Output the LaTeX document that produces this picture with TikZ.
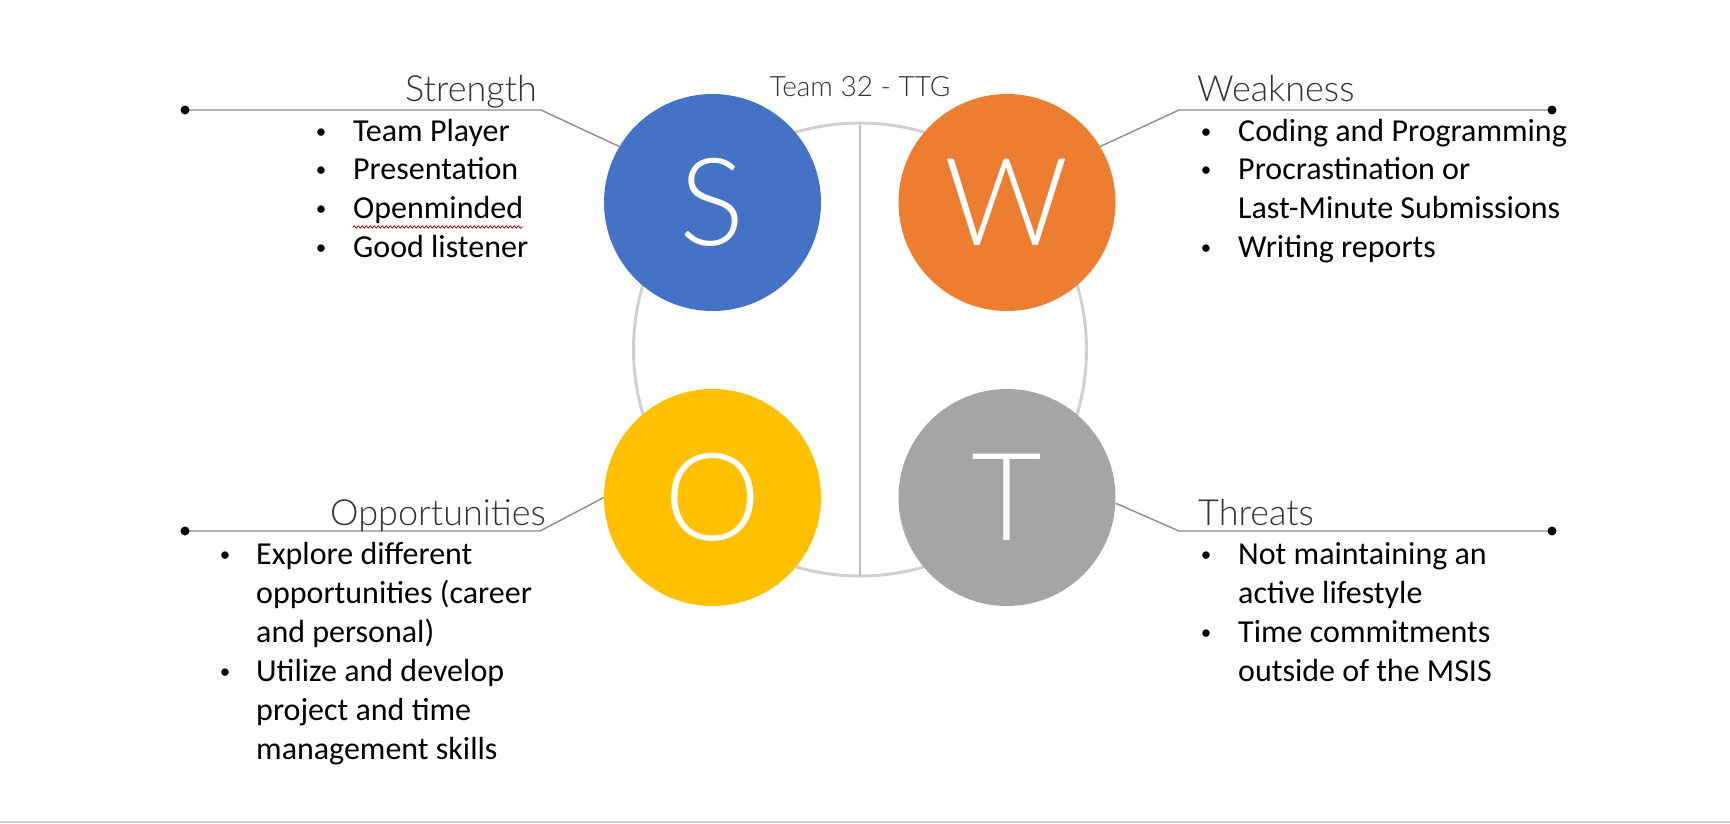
\documentclass[tikz,border=0pt]{standalone}
\usepackage{fontspec}
\setmainfont{Carlito}
\newfontfamily\lightfont{Lato Light}
\usetikzlibrary{decorations.pathmorphing}

\definecolor{sblue}{HTML}{4472C4}
\definecolor{worange}{HTML}{ED7D31}
\definecolor{oyellow}{HTML}{FFC000}
\definecolor{tgray}{HTML}{A5A5A5}
\definecolor{ringgray}{HTML}{D0D0D0}
\definecolor{splitgray}{HTML}{BFBFBF}
\definecolor{conngray}{HTML}{8C8C8C}
\definecolor{headgray}{HTML}{333333}

\tikzset{
  quad/.style={circle, minimum size=217pt, inner sep=0pt, text=white,
    font=\lightfont\fontsize{122}{122}\selectfont},
  conn/.style={draw=conngray, line width=1.4pt},
  enddot/.style={fill=black},
  heading/.style={inner sep=0pt, text=headgray,
    font=\lightfont\fontsize{36}{42}\selectfont},
  item/.style={anchor=base west, inner sep=0pt,
    font=\fontsize{32}{39}\selectfont},
  bul/.style={anchor=base, inner sep=0pt, yshift=3pt,
    font=\fontsize{21}{24}\selectfont},
}

\begin{document}
\begin{tikzpicture}[x=1pt,y=-1pt]
\useasboundingbox (0,0) rectangle (1730,823);
\fill[white] (0,0) rectangle (1730,823);
\fill[ringgray] (0,820.5) rectangle (1730,823);

% central ring with its vertical divider
\node[circle, draw=ringgray, line width=3pt, minimum size=453pt, inner sep=0pt] (ring) at (860,349.5) {};
\draw[splitgray, line width=2pt, shorten <=3pt, shorten >=2pt] (ring.north) -- (ring.south);
\node[anchor=base, inner sep=0pt, text=headgray, font=\lightfont\fontsize{28}{32}\selectfont] (title) at (860,96) {Team 32 - TTG};

% the four quadrant discs
\node[quad, fill=sblue]   (S) at (712.5,202.5) {S};
\node[quad, fill=worange] (W) at (1007,202.5) {W};
\node[quad, fill=oyellow] (O) at (712.5,497.5) {O};
\node[quad, fill=tgray]   (T) at (1007,497.5) {T};

% leader lines
\coordinate (dS) at (185,110);  \coordinate (eS) at (541,110);
\coordinate (dW) at (1552,110); \coordinate (eW) at (1179,110);
\coordinate (dO) at (185,531);  \coordinate (eO) at (540,531);
\coordinate (dT) at (1552,531); \coordinate (eT) at (1179,531);
\draw[conn] (dS) -- (eS) -- (S.149);
\draw[conn] (dW) -- (eW) -- (W.31);
\draw[conn] (dO) -- (eO) -- (O.180);
\draw[conn] (dT) -- (eT) -- (T.-3);
\foreach \d in {dS,dW,dO,dT} \fill[enddot] (\d) circle (4.5pt);

% headings
\node[heading, anchor=base east] (hS) at (537,101) {Strength};
\node[heading, anchor=base west] (hW) at (1197,101) {Weakness};
\node[heading, anchor=base east] (hO) at (546,525) {Opportunities};
\node[heading, anchor=base west] (hT) at (1198,525) {Threats};

% strengths
\node[bul] (bS1) at (321,141) {•}; \node[item] (tS1) at (353,141) {Team Player};
\node[bul] (bS2) at (321,179) {•}; \node[item] (tS2) at (353,179) {Presentation};
\node[bul] (bS3) at (321,218) {•}; \node[item] (tS3) at (353,218) {Openminded};
\node[bul] (bS4) at (321,257) {•}; \node[item] (tS4) at (353,257) {Good listener};
\draw[red!80!black, line width=0.8pt, decorate,
  decoration={snake, amplitude=1.2pt, segment length=4pt}]
  (tS3.base west) ++(0,9) -- ++(170,0);

% weaknesses
\node[bul] (bW1) at (1206,141) {•}; \node[item] (tW1) at (1238,141) {Coding and Programming};
\node[bul] (bW2) at (1206,179) {•}; \node[item] (tW2) at (1238,179) {Procrastination or};
\node[item] (tW3) at (1238,218) {Last-Minute Submissions};
\node[bul] (bW4) at (1206,257) {•}; \node[item] (tW4) at (1238,257) {Writing reports};

% opportunities
\node[bul] (bO1) at (225,564) {•}; \node[item] (tO1) at (256,564) {Explore different};
\node[item] (tO2) at (256,603) {opportunities (career};
\node[item] (tO3) at (256,642) {and personal)};
\node[bul] (bO4) at (225,681) {•}; \node[item] (tO4) at (256,681) {Utilize and develop};
\node[item] (tO5) at (256,720) {project and time};
\node[item] (tO6) at (256,759) {management skills};

% threats
\node[bul] (bT1) at (1206,564) {•}; \node[item] (tT1) at (1238,564) {Not maintaining an};
\node[item] (tT2) at (1238,603) {active lifestyle};
\node[bul] (bT3) at (1206,642) {•}; \node[item] (tT3) at (1238,642) {Time commitments};
\node[item] (tT4) at (1238,681) {outside of the MSIS};
\end{tikzpicture}
\end{document}
